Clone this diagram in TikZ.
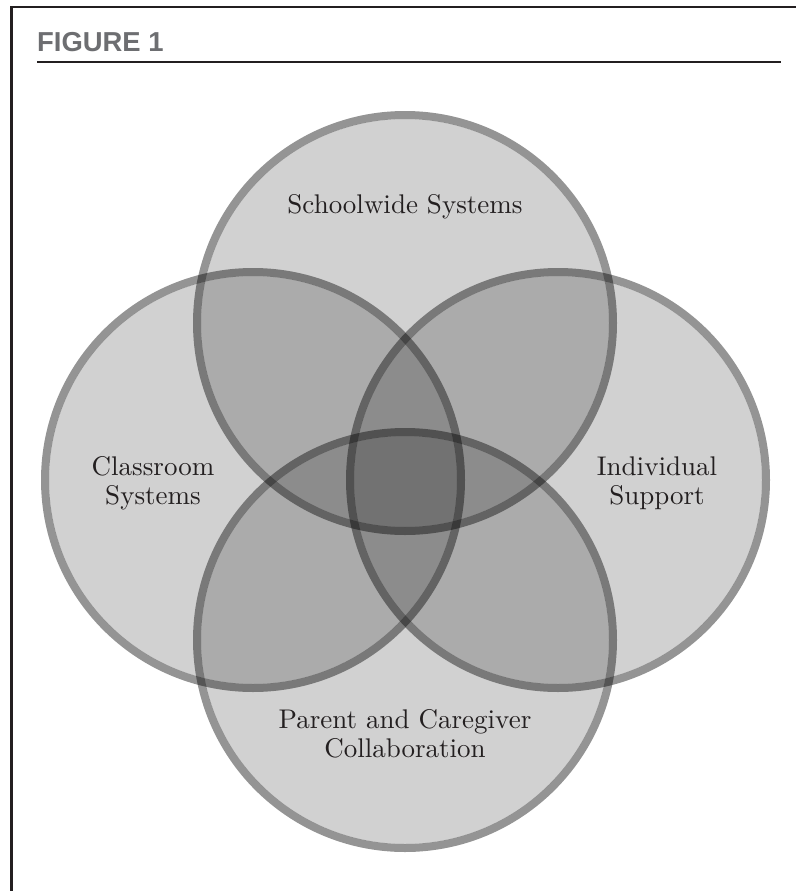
\documentclass[tikz,border=0pt]{standalone}
\usepackage{fontspec}
\setmainfont{lmroman10-regular.otf}
\newfontfamily\headfont{Liberation Sans Bold}
\definecolor{inkdark}{HTML}{231F20}
\definecolor{titlegray}{HTML}{6D6E71}
\begin{document}
\begin{tikzpicture}[x=1pt,y=-1pt,
  ring/.style={draw=black, draw opacity=0.42, line width=8pt},
  disc/.style={fill=black, fill opacity=0.18},
  setlabel/.style={font=\fontsize{27}{29}\selectfont, align=center, text=inkdark, inner sep=0pt}]
\useasboundingbox (0,0) rectangle (796,891);
\fill[white] (0,0) rectangle (796,891);

% frame and heading
\draw[inkdark, line width=2.2pt] (11.5,891) -- (11.5,7) -- (796,7);
\node[anchor=base west, inner sep=0pt, text=titlegray,
      font=\fontsize{27.4}{28}\selectfont\headfont] (title) at (37,52) {FIGURE 1};
\coordinate (ruleL) at (37,62);
\coordinate (ruleR) at (781,62);
\draw[inkdark, line width=1.6pt] (ruleL) -- (ruleR);

% centres of the four sets
\coordinate (ctop)    at (405,323);
\coordinate (cbottom) at (405,640);
\coordinate (cleft)   at (253,480);
\coordinate (cright)  at (558,480);

% translucent discs, then their rims
\foreach \c in {ctop,cleft,cright,cbottom}
  \fill[disc] (\c) circle[radius=204];
\foreach \c in {ctop,cleft,cright,cbottom}
  \draw[ring] (\c) circle[radius=208];

% set labels
\node[setlabel] (school) at (405,207) {Schoolwide Systems};
\node[setlabel] (class)  at (153,483.5) {Classroom\\Systems};
\node[setlabel] (indiv)  at (657,483.5) {Individual\\Support};
\node[setlabel] (parent) at (405,733.5) {Parent and Caregiver\\Collaboration};
\end{tikzpicture}
\end{document}
